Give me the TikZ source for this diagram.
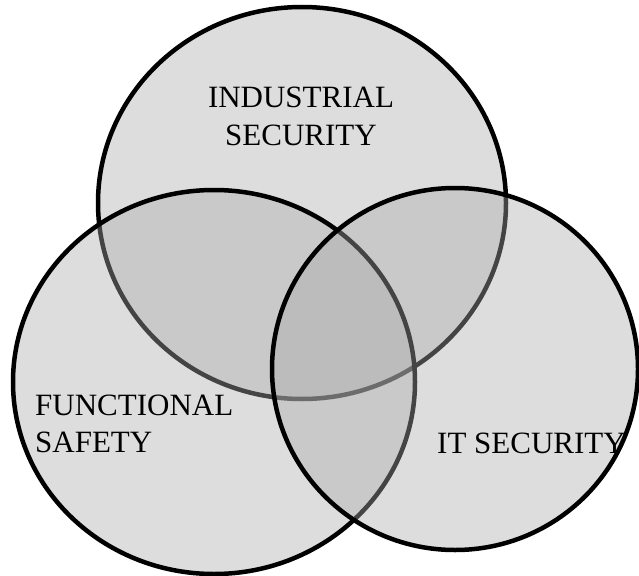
\documentclass[tikz,border=0pt]{standalone}
\usepackage{fontspec}
\setmainfont{Liberation Serif}
\usepackage{tikz, tkz-euclide}

\definecolor{vennfill}{gray}{0.667}
\tikzset{
    set/.style = {draw = black, line width = 4.5pt, fill = vennfill, fill opacity = 0.4},
    setlabel/.style = {inner sep = 0pt, text opacity = 1,
        font = \fontsize{31}{37}\selectfont}
}

\begin{document}
\begin{tikzpicture}[x = 1pt, y = -1pt]
    \useasboundingbox (0,0) rectangle (639,575);
    \tkzDefPoints{302/203/I, 214/382/F, 455/369/T}
    \draw[set] (I) ellipse [x radius = 204pt, y radius = 196pt];
    \draw[set] (F) ellipse [x radius = 201pt, y radius = 192pt];
    \draw[set] (T) ellipse [x radius = 183pt, y radius = 181pt];
    % labels: base anchor sits on the last line
    \node[setlabel, align = center, anchor = base] (industrial) at (301,145) {INDUSTRIAL\\SECURITY};
    \node[setlabel, align = left, anchor = base west] (functional) at (35,452) {FUNCTIONAL\\SAFETY};
    \node[setlabel, anchor = base west] (itsec) at (437,453) {IT SECURITY};
\end{tikzpicture}
\end{document}
